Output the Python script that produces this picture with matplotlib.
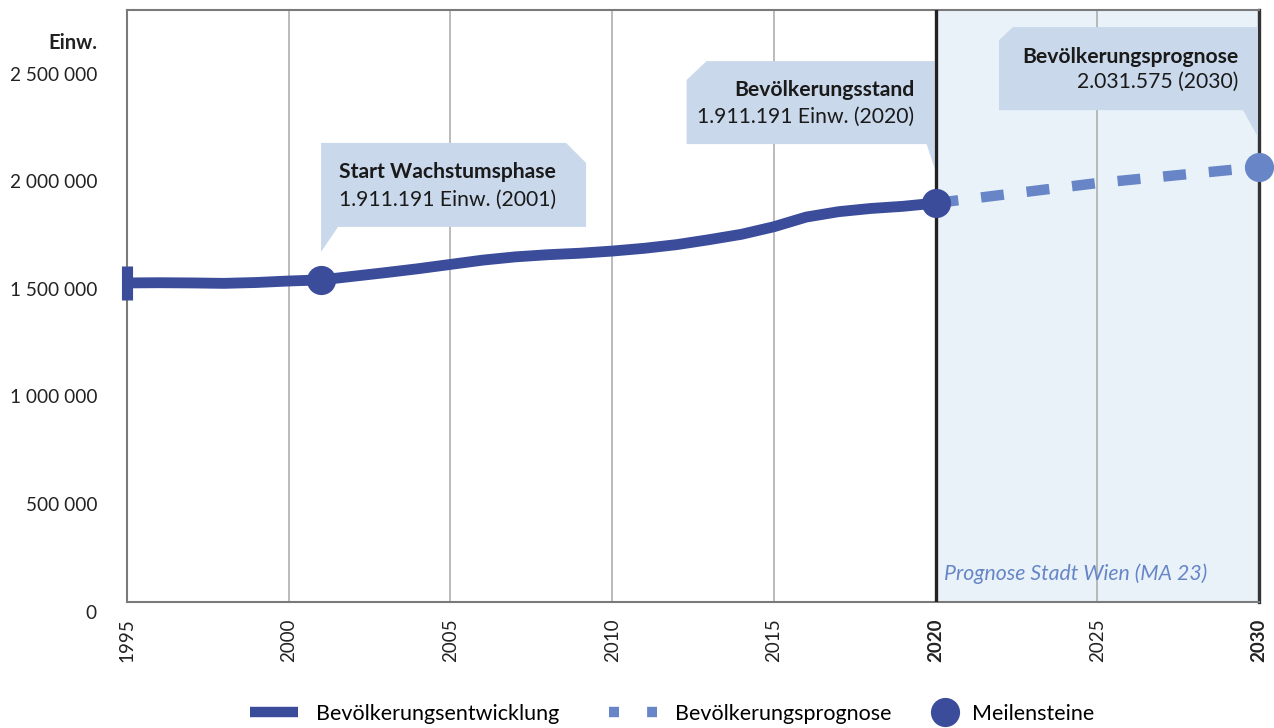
import numpy as np
import matplotlib
matplotlib.use('Agg')
import matplotlib.pyplot as plt
from matplotlib.lines import Line2D
from matplotlib.patches import Polygon

plt.rcParams['font.family'] = ['Lato', 'DejaVu Sans']

# Population of Vienna
years = [1995, 1996, 1997, 1998, 1999, 2000, 2001, 2002, 2003, 2004, 2005, 2006, 2007,
         2008, 2009, 2010, 2011, 2012, 2013, 2014, 2015, 2016, 2017, 2018, 2019, 2020]
population = [1534000, 1535000, 1534000, 1532000, 1536000, 1543000, 1548000, 1565000,
              1582000, 1600000, 1620000, 1640000, 1655000, 1665000, 1672000, 1682000,
              1695000, 1712000, 1735000, 1760000, 1795000, 1840000, 1865000, 1880000,
              1890000, 1905000]

forecast_years = [2020, 2025, 2030]
forecast = [1905000, 1998000, 2072000]

milestone_years = [2001, 2020]
milestone_values = [1548000, 1905000]

y_ticks = [0, 500000, 1000000, 1500000, 2000000, 2500000]
y_labels = ['0', '500 000', '1 000 000', '1 500 000', '2 000 000', '2 500 000']
x_ticks = [1995, 2000, 2005, 2010, 2015, 2020, 2025, 2030]

callouts = [
    ('Start Wachstumsphase', '1.911.191 Einw. (2001)'),
    ('Bevölkerungsstand', '1.911.191 Einw. (2020)'),
    ('Bevölkerungsprognose', '2.031.575 (2030)'),
]

dark_blue = '#3b4c9b'
light_blue = '#6886c7'
box_blue = '#c9d8eb'
shade = '#e8f2f8'

fig = plt.figure(figsize=(12.74, 7.28), dpi=100)
ax = fig.add_axes([127 / 1274, 1 - 601.5 / 728, 1132 / 1274, 591.5 / 728])
ax.set_xlim(1995, 2030)
ax.set_ylim(54000, 2802000)

# forecast area + grid
ax.axvspan(2020, 2030, color=shade, zorder=0)
for x in x_ticks[1:-1]:
    if x == 2020:
        ax.axvline(x, color='#222222', lw=2.4, zorder=4)
    else:
        ax.axvline(x, color='#a8a8a8', lw=1.1, zorder=1)

for side in ['left', 'top', 'bottom']:
    ax.spines[side].set_color('#7a7a7a')
    ax.spines[side].set_linewidth(1.5)
ax.spines['right'].set_color('#333333')
ax.spines['right'].set_linewidth(2.4)

# y labels (drawn as text because 0 lies just below the axis frame)
ax.set_yticks([])
for v, lab in zip(y_ticks, y_labels):
    ax.text(-30 / 1132, v, lab, transform=ax.get_yaxis_transform(), ha='right',
            va='center', fontsize=13.7, color='#222222', clip_on=False)
fig.text(97 / 1274, 1 - 43 / 728, 'Einw.', ha='right', va='center', fontsize=14.5,
         fontweight='bold', color='#222222')

ax.set_xticks(x_ticks)
ax.set_xticklabels([str(x) for x in x_ticks], rotation=90, fontsize=13.5, color='#222222')
for lab in ax.get_xticklabels():
    if lab.get_text() in ('2020', '2030'):
        lab.set_fontweight('bold')
ax.tick_params(axis='x', length=0, pad=12)

# data
ax.plot(years, population, color=dark_blue, lw=7.8, solid_capstyle='butt', zorder=5)
ax.plot(years[0], population[0], marker='|', ms=24, mew=8, color=dark_blue, zorder=6,
        clip_on=False)
ax.plot(forecast_years, forecast, color=light_blue, lw=7.5, dashes=(2.2, 2.2),
        dash_capstyle='butt', zorder=5)
ax.plot(forecast_years[-1], forecast[-1], 'o', ms=20, color=light_blue, zorder=6,
        clip_on=False)
ax.plot(milestone_years, milestone_values, 'o', ms=20, color=dark_blue, zorder=7,
        linestyle='none', clip_on=False)

ax.text(2020.25, 183000, 'Prognose Stadt Wien (MA 23)', fontsize=15.3, style='italic',
        color=light_blue, va='center', ha='left', zorder=3)

# callout boxes, drawn in pixel offsets from their anchor point
anchors = [(milestone_years[0], milestone_values[0]),
           (milestone_years[1], milestone_values[1]),
           (forecast_years[-1], forecast[-1])]
shapes = [
    [(0, 28), (0, 137), (245, 137), (265, 117), (265, 53), (17, 53)],
    [(-249, 123), (-229, 142), (-1, 142), (-1, 35), (-9, 59), (-249, 59)],
    [(-260, 127), (-246, 140), (-1, 140), (-1, 30), (-16, 57), (-260, 57)],
]
text_pos = [(235, 108, 80), (-21, 113, 86), (-21, 110, 85)]

fig.canvas.draw()
for (ax_x, ax_y), shape, (tx, ty1, ty2), (t1, t2) in zip(anchors, shapes, text_pos, callouts):
    px, py = ax.transData.transform((ax_x, ax_y))
    verts = [(px + dx, py + dy) for dx, dy in shape]
    poly = Polygon(verts, closed=True, facecolor=box_blue, edgecolor='none',
                   transform=None, zorder=3)
    ax.add_artist(poly)
    fig.text((px + tx) / 1274, (py + ty1) / 728, t1, ha='right', va='center',
             fontsize=15.2, fontweight='bold', color='#1a1a1a', zorder=8)
    fig.text((px + tx) / 1274, (py + ty2) / 728, t2, ha='right', va='center',
             fontsize=15.2, color='#1a1a1a', zorder=8)

# legend (two parts, the milestone entry sits closer to its label)
line_handles = [
    Line2D([], [], color=dark_blue, lw=7.5, solid_capstyle='butt'),
    Line2D([], [], color=light_blue, lw=7.5, dashes=(0.96, 2.7), dash_capstyle='butt'),
]
fig.legend(line_handles, ['Bevölkerungsentwicklung', 'Bevölkerungsprognose'],
           loc='center left', bbox_to_anchor=(250 / 1274, 1 - 714 / 728), ncol=2,
           frameon=False, fontsize=15.5, handlelength=2.23, handletextpad=0.84,
           columnspacing=2.3, borderpad=0, borderaxespad=0)
dot = Line2D([], [], color=dark_blue, marker='o', ms=20, linestyle='none')
fig.legend([dot], ['Meilensteine'], loc='center left',
           bbox_to_anchor=(931 / 1274, 1 - 714 / 728), frameon=False, fontsize=15.5,
           handlelength=1.3, handletextpad=0.6, borderpad=0, borderaxespad=0)

fig.savefig('out.png', dpi=100)
